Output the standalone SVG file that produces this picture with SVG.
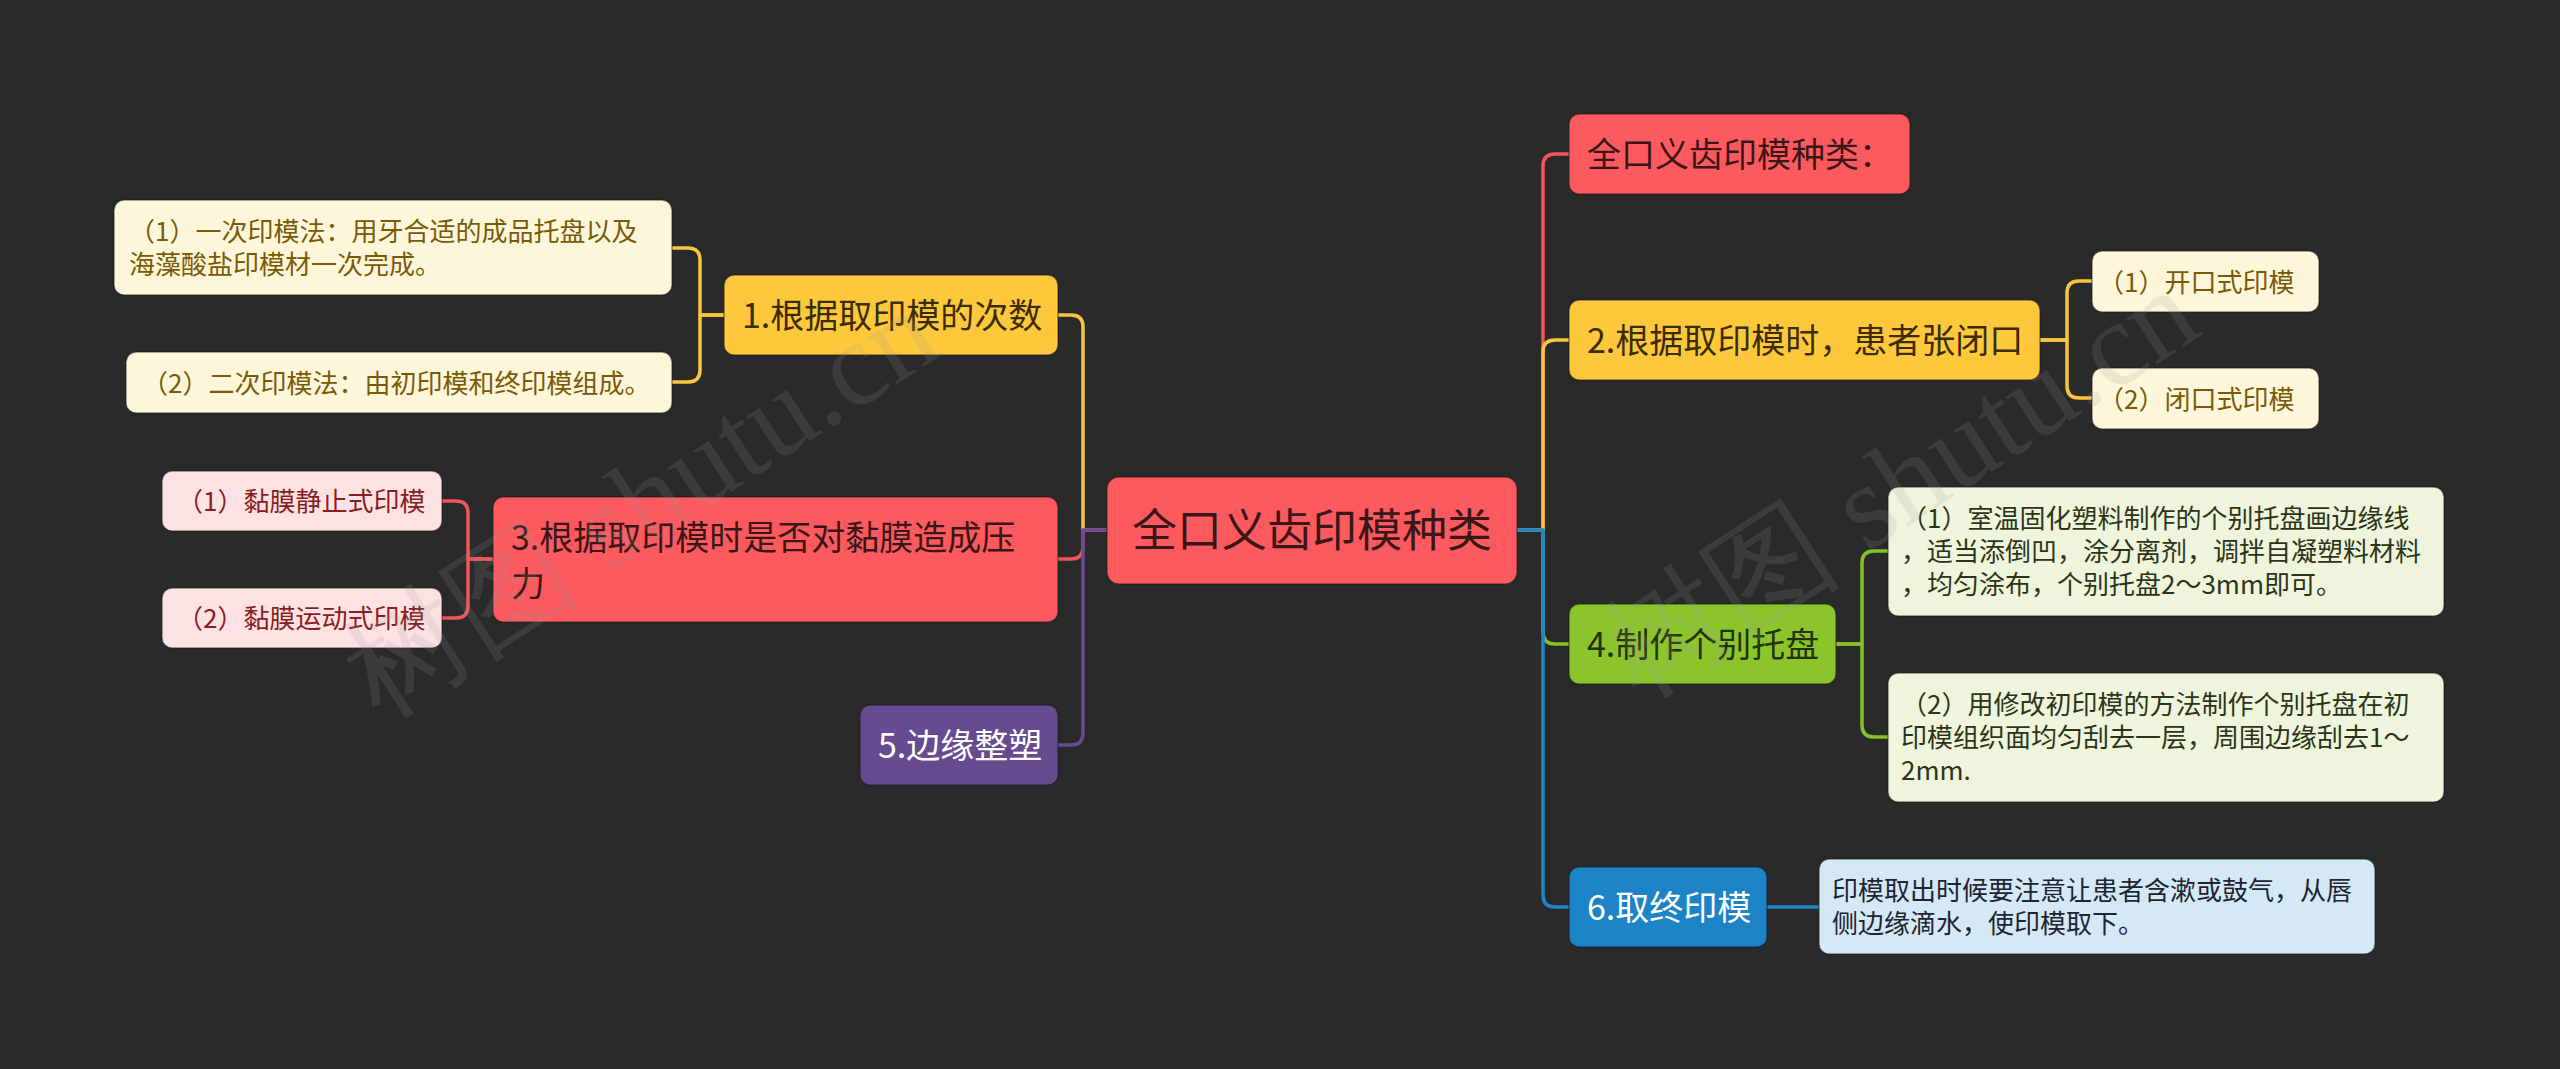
<svg xmlns="http://www.w3.org/2000/svg" width="2560" height="1069" viewBox="0 0 2560 1069">
<style>
text{font-family:"Noto Sans CJK SC","Noto Sans",sans-serif;}
.m{font-size:34px;}
.c{font-size:26px;}
.box{stroke:#1a1a1a;stroke-opacity:0.5;stroke-width:1.5;}
.ln{fill:none;stroke-width:3.5;stroke-linejoin:round;}
.wm{font-family:"Liberation Serif","DejaVu Serif",serif;font-size:120px;fill:#9a9a9a;fill-opacity:0.16;}
</style>
<rect width="2560" height="1069" fill="#2a2a2a"/>

<g id="connectors">
  <path class="ln" stroke="#f0555b" d="M1517 530 H1543 V166 Q1543 154 1555 154 H1569"/>
  <path class="ln" stroke="#f7c63e" d="M1517 530 H1543 V352 Q1543 340 1555 340 H1569"/>
  <path class="ln" stroke="#86c12a" d="M1517 530 H1543 V632 Q1543 644 1555 644 H1569"/>
  <path class="ln" stroke="#1d86c8" d="M1517 530 H1543 V895 Q1543 907 1555 907 H1569"/>

  <path class="ln" stroke="#f7c63e" d="M1107 530 H1083 V327 Q1083 315 1071 315 H1058"/>
  <path class="ln" stroke="#f0555b" d="M1107 530 H1083 V547 Q1083 559 1071 559 H1058"/>
  <path class="ln" stroke="#654b90" d="M1107 530 H1083 V733 Q1083 745 1071 745 H1058"/>

  <path class="ln" stroke="#f7c63e" d="M724 315 H700 V260 Q700 248 688 248 H672"/>
  <path class="ln" stroke="#f7c63e" d="M724 315 H700 V370 Q700 382 688 382 H672"/>

  <path class="ln" stroke="#f0555b" d="M493 559 H468 V513 Q468 501 456 501 H442"/>
  <path class="ln" stroke="#f0555b" d="M493 559 H468 V606 Q468 618 456 618 H442"/>

  <path class="ln" stroke="#f7c63e" d="M2040 340 H2067 V293 Q2067 281 2079 281 H2092"/>
  <path class="ln" stroke="#f7c63e" d="M2040 340 H2067 V386 Q2067 398 2079 398 H2092"/>

  <path class="ln" stroke="#86c12a" d="M1836 644 H1862 V563 Q1862 551 1874 551 H1888"/>
  <path class="ln" stroke="#86c12a" d="M1836 644 H1862 V725 Q1862 737 1874 737 H1888"/>

  <path class="ln" stroke="#1d86c8" d="M1767 907 H1819"/>
</g>

<g id="node-root">
  <rect class="box" x="1107" y="477" width="410" height="107" rx="12" fill="#fd5a5f"/>
  <text x="1312" y="547" font-size="45" text-anchor="middle" fill="#3a1618">全口义齿印模种类</text>
</g>

<g id="node-r0">
  <rect class="box" x="1569" y="114" width="341" height="80" rx="10" fill="#fd5a5f"/>
  <text class="m" x="1587" y="167" fill="#3a1618">全口义齿印模种类：</text>
</g>

<g id="node-2">
  <rect class="box" x="1569" y="300" width="471" height="80" rx="10" fill="#fdc83b"/>
  <text class="m" x="1587" y="353" fill="#3b2c02">2.根据取印模时，患者张闭口</text>
</g>
<g id="node-2-1">
  <rect class="box" x="2092" y="251" width="227" height="61" rx="10" fill="#fdf6da"/>
  <text class="c" x="2098" y="292" fill="#7a5a05">（1）开口式印模</text>
</g>
<g id="node-2-2">
  <rect class="box" x="2092" y="368" width="227" height="61" rx="10" fill="#fdf6da"/>
  <text class="c" x="2098" y="409" fill="#7a5a05">（2）闭口式印模</text>
</g>

<g id="node-4">
  <rect class="box" x="1569" y="604" width="267" height="80" rx="10" fill="#8cc52b"/>
  <text class="m" x="1587" y="657" fill="#233309">4.制作个别托盘</text>
</g>
<g id="node-4-1">
  <rect class="box" x="1888" y="487" width="556" height="129" rx="10" fill="#eef5dc"/>
  <text class="c" fill="#2c3418"><tspan x="1901" y="528">（1）室温固化塑料制作的个别托盘画边缘线</tspan><tspan x="1901" y="561">，适当添倒凹，涂分离剂，调拌自凝塑料材料</tspan><tspan x="1901" y="594">，均匀涂布，个别托盘2～3mm即可。</tspan></text>
</g>
<g id="node-4-2">
  <rect class="box" x="1888" y="673" width="556" height="129" rx="10" fill="#eef5dc"/>
  <text class="c" fill="#2c3418"><tspan x="1901" y="714">（2）用修改初印模的方法制作个别托盘在初</tspan><tspan x="1901" y="747">印模组织面均匀刮去一层，周围边缘刮去1～</tspan><tspan x="1901" y="780">2mm.</tspan></text>
</g>

<g id="node-6">
  <rect class="box" x="1569" y="867" width="198" height="80" rx="10" fill="#1c84c6"/>
  <text class="m" x="1587" y="920" fill="#ffffff">6.取终印模</text>
</g>
<g id="node-6-1">
  <rect class="box" x="1819" y="859" width="556" height="95" rx="10" fill="#d5e8f6"/>
  <text class="c" fill="#1d2530"><tspan x="1832" y="900">印模取出时候要注意让患者含漱或鼓气，从唇</tspan><tspan x="1832" y="933">侧边缘滴水，使印模取下。</tspan></text>
</g>

<g id="node-1">
  <rect class="box" x="724" y="275" width="334" height="80" rx="10" fill="#fdc83b"/>
  <text class="m" x="742" y="328" fill="#3b2c02">1.根据取印模的次数</text>
</g>
<g id="node-1-1">
  <rect class="box" x="114" y="200" width="558" height="95" rx="10" fill="#fdf6da"/>
  <text class="c" fill="#7a5a05"><tspan x="129" y="241">（1）一次印模法：用牙合适的成品托盘以及</tspan><tspan x="129" y="274">海藻酸盐印模材一次完成。</tspan></text>
</g>
<g id="node-1-2">
  <rect class="box" x="126" y="352" width="546" height="61" rx="10" fill="#fdf6da"/>
  <text class="c" x="142" y="393" fill="#7a5a05">（2）二次印模法：由初印模和终印模组成。</text>
</g>

<g id="node-3">
  <rect class="box" x="493" y="497" width="565" height="125" rx="10" fill="#fd5a5f"/>
  <text class="m" fill="#3a1618"><tspan x="511" y="550">3.根据取印模时是否对黏膜造成压</tspan><tspan x="511" y="596">力</tspan></text>
</g>
<g id="node-3-1">
  <rect class="box" x="162" y="471" width="280" height="60" rx="10" fill="#fde2e4"/>
  <text class="c" x="177" y="511" fill="#8a1d1d">（1）黏膜静止式印模</text>
</g>
<g id="node-3-2">
  <rect class="box" x="162" y="588" width="280" height="60" rx="10" fill="#fde2e4"/>
  <text class="c" x="177" y="628" fill="#8a1d1d">（2）黏膜运动式印模</text>
</g>

<g id="node-5">
  <rect class="box" x="860" y="705" width="198" height="80" rx="10" fill="#664b90"/>
  <text class="m" x="878" y="758" fill="#ffffff">5.边缘整塑</text>
</g>

<g id="watermark">
  <text class="wm" transform="translate(380,720) rotate(-33)">树图 shutu.cn</text>
  <text class="wm" transform="translate(1640,700) rotate(-33)">树图 shutu.cn</text>
</g>
</svg>
